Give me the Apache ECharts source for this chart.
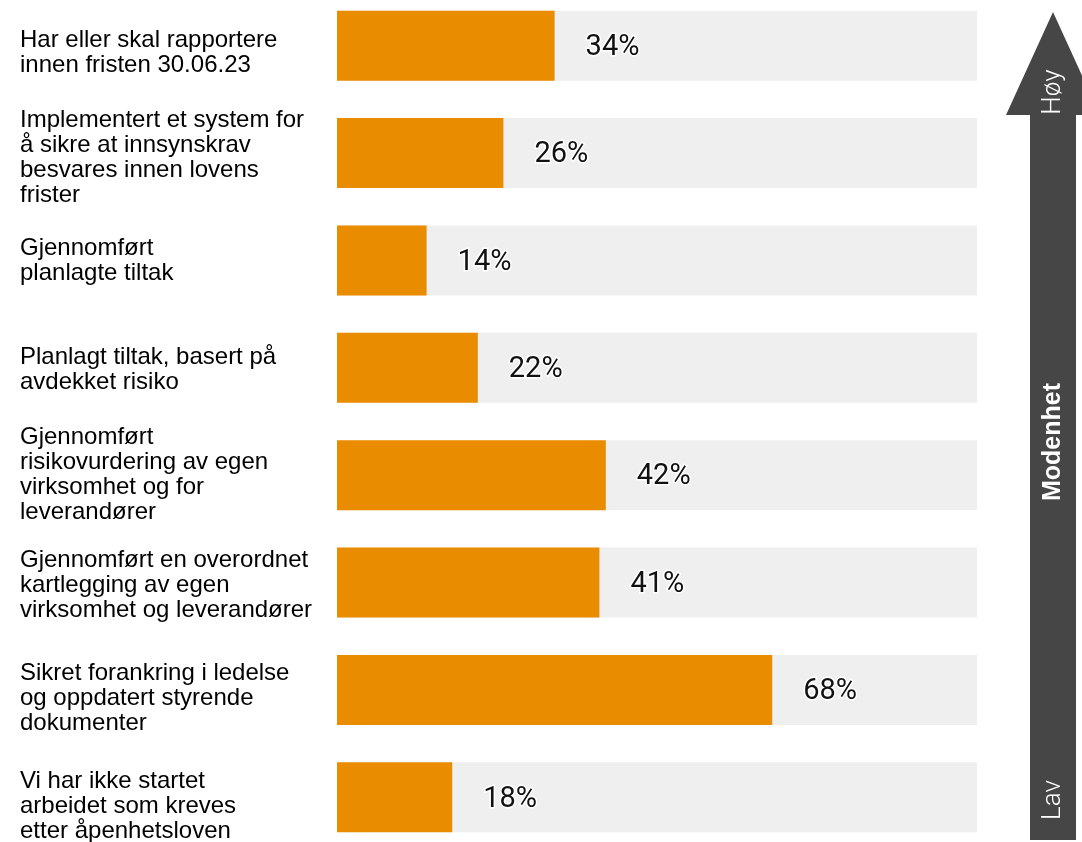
<!DOCTYPE html>
<html>
<head>
<meta charset="utf-8">
<script src="https://cdn.jsdelivr.net/npm/echarts@6/dist/echarts.min.js"></script>
<style>
  html, body { margin: 0; padding: 0; background: #fff; }
  #chart { width: 1082px; height: 842px; }
</style>
</head>
<body>
<div id="chart"></div>
<script>
// kategorier, fra toppen (høy modenhet) og ned
const categories = [
  'Har eller skal rapportere\ninnen fristen 30.06.23',
  'Implementert et system for\nå sikre at innsynskrav\nbesvares innen lovens\nfrister',
  'Gjennomført\nplanlagte tiltak',
  'Planlagt tiltak, basert på\navdekket risiko',
  'Gjennomført\nrisikovurdering av egen\nvirksomhet og for\nleverandører',
  'Gjennomført en overordnet\nkartlegging av egen\nvirksomhet og leverandører',
  'Sikret forankring i ledelse\nog oppdatert styrende\ndokumenter',
  'Vi har ikke startet\narbeidet som kreves\netter åpenhetsloven'
]
const values = [34, 26, 14, 22, 42, 41, 68, 18]
const arrowLabels = ['Høy', 'Modenhet', 'Lav']

// tekstene står litt under midten av stolpen i originalen
const labelShift = [7, 5, 0, 2, 0, 3, 8, 9]

// en tom linje øverst skyver teksten ned
const spacer = {}
labelShift.forEach((s, i) => {
  spacer['g' + i] = { fontSize: 1, lineHeight: s * 2 }
})

const chart = echarts.init(document.getElementById('chart'))

const options = {
  animation: false,
  grid: {
    left: 337,
    right: 105,
    top: -8,
    height: 859,
    outerBoundsMode: 'none',
    containLabel: false,
  },
  xAxis: {
    type: 'value',
    min: 0,
    max: 100,
    show: false,
  },
  yAxis: {
    type: 'category',
    inverse: true,
    data: categories,
    axisLine: { show: false },
    axisTick: { show: false },
    splitLine: { show: false },
    axisLabel: {
      align: 'left',
      margin: 317,
      color: '#000',
      fontSize: 24,
      lineHeight: 25,
      fontFamily: '"Liberation Sans", Arial, sans-serif',
      formatter: (value, idx) => labelShift[idx] ? `{g${idx}| }\n${value}` : value,
      rich: spacer,
    },
  },
  series: [{
    type: 'bar',
    data: values,
    barWidth: 70,
    showBackground: true,
    backgroundStyle: { color: '#efefef' },
    itemStyle: { color: '#ea8c00' },
    label: {
      show: true,
      position: 'right',
      distance: 31,
      offset: [0, 2],
      formatter: '{c}%',
      fontFamily: 'Roboto, sans-serif',
      fontSize: 29,
      color: '#111',
      textBorderColor: '#fff',
      textBorderWidth: 3,
    },
  }],
  graphic: [
    {
      type: 'polygon',
      shape: {
        points: [[1053, 12], [1100, 115], [1076, 115], [1076, 840], [1030, 840], [1030, 115], [1006, 115]],
      },
      style: { fill: '#464646' },
    },
    {
      type: 'text',
      x: 1053, y: 92, rotation: Math.PI / 2,
      style: {
        text: arrowLabels[0], fill: '#fff', fontSize: 26, fontWeight: 300, fontFamily: 'Roboto, sans-serif',
        align: 'center', verticalAlign: 'middle',
      },
    },
    {
      type: 'text',
      x: 1053, y: 442, rotation: Math.PI / 2,
      style: {
        text: arrowLabels[1], fill: '#fff', fontSize: 25, fontWeight: 'bold',
        fontFamily: '"Liberation Sans", Arial, sans-serif',
        align: 'center', verticalAlign: 'middle',
      },
    },
    {
      type: 'text',
      x: 1053, y: 800, rotation: Math.PI / 2,
      style: {
        text: arrowLabels[2], fill: '#fff', fontSize: 26, fontWeight: 300, fontFamily: 'Roboto, sans-serif',
        align: 'center', verticalAlign: 'middle',
      },
    },
  ],
}

chart.setOption(options)
</script>
</body>
</html>
